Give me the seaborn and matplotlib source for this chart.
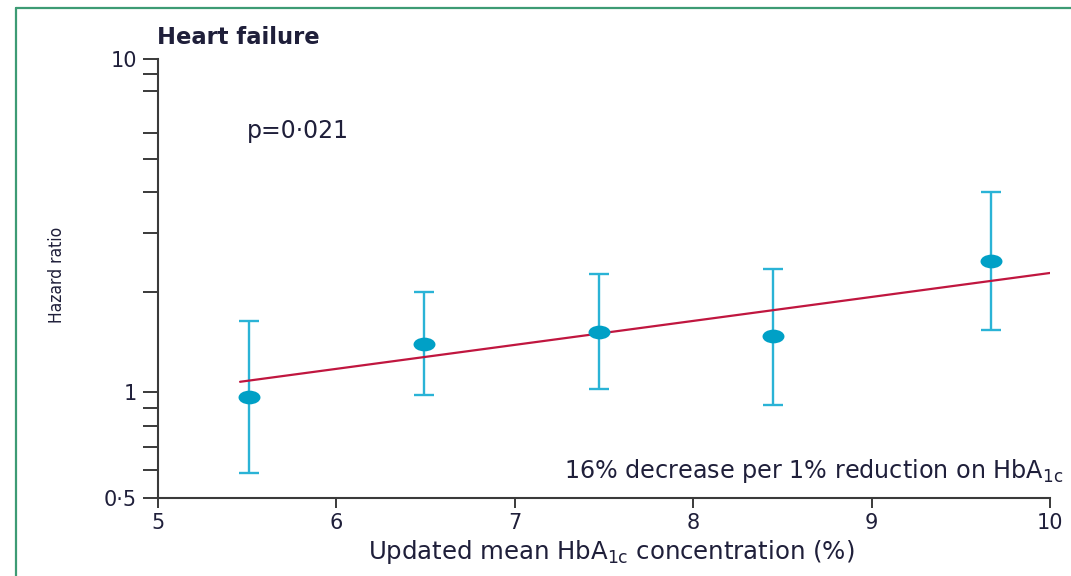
import numpy as np
import matplotlib
matplotlib.use("Agg")
import matplotlib.pyplot as plt
from matplotlib.path import Path
from matplotlib.lines import Line2D
from matplotlib.ticker import FixedLocator, FixedFormatter, NullFormatter
import seaborn as sns

# Hazard ratios by updated mean HbA1c category (with 95% CI)
hba1c = [5.51, 6.49, 7.47, 8.45, 9.67]
hazard_ratio = [0.97, 1.40, 1.52, 1.48, 2.47]
ci_lower = [0.59, 0.98, 1.02, 0.92, 1.54]
ci_upper = [1.64, 2.00, 2.27, 2.35, 3.99]

# Fitted log-linear trend
trend_x = [5.46, 10.0]
trend_hr = [1.075, 2.28]

y_major = [0.5, 1, 10]
y_major_labels = ["0·5", "1", "10"]
y_minor = [0.6, 0.7, 0.8, 0.9, 2, 3, 4, 5, 6, 8, 9]
x_ticks = [5, 6, 7, 8, 9, 10]

sns.set_theme(style="white")
plt.rcParams["font.family"] = ["DejaVu Sans"]
plt.rcParams["mathtext.fontset"] = "dejavusans"

text_color = "#1f1f3a"
axis_color = "#3a3a3a"
point_color = "#00a0c6"
bar_color = "#2ab3d6"
line_color = "#c0163f"

fig = plt.figure(figsize=(10.71, 5.76), dpi=100)
ax = fig.add_axes([158 / 1071, 1 - 498 / 576, (1050 - 158) / 1071, (498 - 59) / 576])

pts_x = np.array(hba1c)
pts_hr = np.array(hazard_ratio)
lo = pts_hr - np.array(ci_lower)
hi = np.array(ci_upper) - pts_hr

ax.errorbar(hba1c, hazard_ratio, yerr=[lo, hi], fmt="none", ecolor=bar_color,
            elinewidth=1.7, capsize=7.2, capthick=1.7, zorder=2)

sns.lineplot(x=trend_x, y=trend_hr, ax=ax, color=line_color, linewidth=1.6, zorder=3)

# Wide elliptical dot marker
circ = Path.unit_circle()
ellipse = Path(circ.vertices * np.array([1.6, 1.0]), circ.codes)
sns.scatterplot(x=pts_x, y=pts_hr, ax=ax, marker=ellipse, s=250,
                color=point_color, linewidth=0, zorder=4)

# Log axis, with the sub-unity decade drawn slightly taller
k_low = 1.054


def fwd(y):
    y = np.clip(np.asarray(y, dtype=float), 1e-6, None)
    v = np.log10(y)
    return np.where(v >= 0, v, v * k_low)


def inv(v):
    v = np.asarray(v, dtype=float)
    return np.where(v >= 0, 10.0 ** v, 10.0 ** (v / k_low))


ax.set_yscale("function", functions=(fwd, inv))
ax.set_xlim(5, 10)
ax.set_ylim(0.5, 10)

ax.yaxis.set_major_locator(FixedLocator(y_major))
ax.yaxis.set_major_formatter(FixedFormatter(y_major_labels))
ax.yaxis.set_minor_locator(FixedLocator(y_minor))
ax.yaxis.set_minor_formatter(NullFormatter())
ax.set_xticks(x_ticks)
ax.set_xticklabels([str(t) for t in x_ticks])

for side in ["top", "right"]:
    ax.spines[side].set_visible(False)
for side in ["left", "bottom"]:
    ax.spines[side].set_color(axis_color)
    ax.spines[side].set_linewidth(1.5)

ax.tick_params(axis="y", which="both", direction="out", length=11, width=1.4,
               color=axis_color, left=True, pad=4, labelsize=15, labelcolor=text_color)
ax.tick_params(axis="x", which="major", direction="out", length=7, width=1.4,
               color=axis_color, bottom=True, pad=4, labelsize=15, labelcolor=text_color)
ax.set_xlabel("")
ax.set_ylabel("")

ax.text(5.5, 6.1, "p=0·021", fontsize=17, color=text_color, ha="left", va="center")

fig.text(157 / 1071, 1 - 37 / 576, "Heart failure", fontsize=16.3, fontweight="bold",
         color=text_color, ha="left", va="center")
fig.text(611 / 1071, 1 - 552 / 576, r"Updated mean HbA$_\mathrm{1c}$ concentration (%)",
         fontsize=17.6, color=text_color, ha="center", va="center")
fig.text(1063 / 1071, 1 - 471 / 576, r"16% decrease per 1% reduction on HbA$_\mathrm{1c}$",
         fontsize=17.2, color=text_color, ha="right", va="center")
fig.text(57 / 1071, 1 - 275 / 576, "Hazard ratio", fontsize=12.5, color=text_color,
         rotation=90, ha="center", va="center", fontstretch="condensed",
         family=["DejaVu Sans"])

# Frame lines along the top and left edges
fig.add_artist(Line2D([16 / 1071, 16 / 1071], [0, 1 - 7.5 / 576], transform=fig.transFigure,
                      color="#3d9b74", linewidth=1.6))
fig.add_artist(Line2D([16 / 1071, 1], [1 - 7.5 / 576, 1 - 7.5 / 576], transform=fig.transFigure,
                      color="#3d9b74", linewidth=1.6))

fig.savefig("out.png", dpi=100, facecolor="white")
